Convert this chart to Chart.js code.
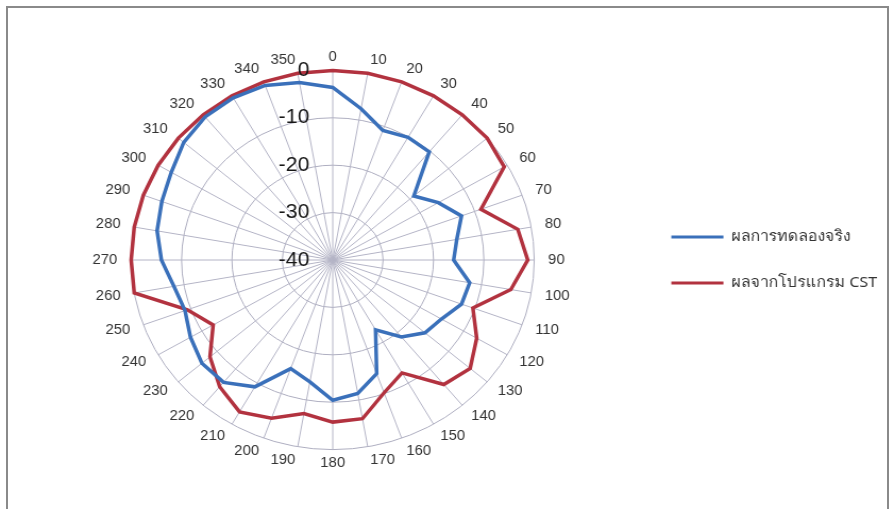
<!DOCTYPE html>
<html>
<head>
<meta charset="utf-8">
<script src="https://cdn.jsdelivr.net/npm/chart.js@4/dist/chart.umd.min.js"></script>
<style>
  html, body { margin: 0; padding: 0; background: #fff; overflow: hidden; }
  body { width: 894px; height: 509px; position: relative; }
  #frame {
    position: absolute; left: 6px; top: 6px; width: 883px; height: 520px;
    border: 2px solid #8a8a8a; box-sizing: border-box;
  }
  /* the scanned figure is a little wider than tall, so stretch it the same way */
  #wrap {
    position: absolute; left: 0; top: 0; width: 850px; height: 509px;
    transform: scaleX(1.063); transform-origin: 0 0;
  }
</style>
</head>
<body>
<div id="frame"></div>
<div id="wrap"><canvas id="chart" width="850" height="509"></canvas></div>
<script>
"use strict";

// angles, degrees
const angleLabels = ['0','10','20','30','40','50','60','70','80','90','100','110',
  '120','130','140','150','160','170','180','190','200','210','220','230',
  '240','250','260','270','280','290','300','310','320','330','340','350'];

// radial ticks (dB)
const tickValues = [-40, -30, -20, -10, 0];

// measured pattern
const measured = [-3.6, -7.6, -10.9, -10.1, -10.2, -19, -15.8, -12.8, -15, -16, -12.4, -12.8,
  -15.1, -16.1, -18.8, -23, -14.5, -11.4, -10.4, -13.9, -15.6, -9.1, -6.3, -6.1,
  -7.4, -8.8, -8, -6, -4.6, -3.9, -3, -1.4, -0.6, -0.5, -0.8, -2];

// CST simulation
const simulated = [0, 0, 0, 0, 0, 0, -0.7, -8.7, -2.7, -1.3, -4.1, -10.4,
  -7, -4.4, -5.7, -12.5, -10.2, -6, -5.8, -7.1, -4.5, -3, -5.1, -8.2,
  -12.6, -9.3, 0, 0, 0, 0, 0, 0, 0, 0, 0, 0];

const seriesNames = ['ผลการทดลองจริง', 'ผลจากโปรแกรม CST'];
const seriesColors = ['#3a70ba', '#b2323f'];

// dB labels sit left of the 0 deg spoke, like the original
const tickLabelPlugin = {
  id: 'tickLabels',
  afterDatasetsDraw(chart) {
    const _s = chart.scales.r;
    const _ctx = chart.ctx;
    _ctx.save();
    _ctx.font = '20px "Liberation Sans", Arial, sans-serif';
    _ctx.fillStyle = '#161616';
    _ctx.textAlign = 'right';
    _ctx.textBaseline = 'middle';
    tickValues.forEach(function(_v) {
      const _d = _s.getDistanceFromCenterForValue(_v);
      _ctx.fillText(String(_v), _s.xCenter - 22, _s.yCenter - _d);
    });
    _ctx.restore();
  }
};

const _datasets = [measured, simulated].map(function(_data, _i) {
  return {
    label: seriesNames[_i],
    data: _data,
    borderColor: seriesColors[_i],
    backgroundColor: seriesColors[_i],
    borderWidth: 3.5,
    pointRadius: 0,
    fill: false,
    tension: 0
  };
});

new Chart(document.getElementById('chart'), {
  type: 'radar',
  data: { labels: angleLabels, datasets: _datasets },
  plugins: [tickLabelPlugin],
  options: {
    responsive: false,
    animation: false,
    devicePixelRatio: 1,
    layout: { padding: { left: 26, right: 15, top: 56, bottom: 45 } },
    scales: {
      r: {
        min: -40,
        max: 0,
        ticks: { display: false, stepSize: 10 },
        grid: { circular: true, color: '#aeaec0', lineWidth: 1 },
        angleLines: { color: '#b4b4c6', lineWidth: 1 },
        pointLabels: {
          padding: 13,
          color: '#333',
          // tiny line height keeps each label centred on its anchor, as in the original
          font: { family: '"Liberation Sans", Arial, sans-serif', size: 14, lineHeight: 0.1 }
        }
      }
    },
    plugins: {
      tooltip: { enabled: false },
      legend: {
        position: 'right',
        labels: {
          boxWidth: 49,
          boxHeight: 3,
          padding: 31,
          color: '#333',
          font: { family: '"Noto Sans", "DejaVu Sans", sans-serif', size: 15 },
          generateLabels: function(_chart) {
            const _items = Chart.defaults.plugins.legend.labels.generateLabels(_chart);
            _items.forEach(function(_it) { _it.lineWidth = 0; });
            return _items;
          }
        }
      }
    }
  }
});
</script>
</body>
</html>
